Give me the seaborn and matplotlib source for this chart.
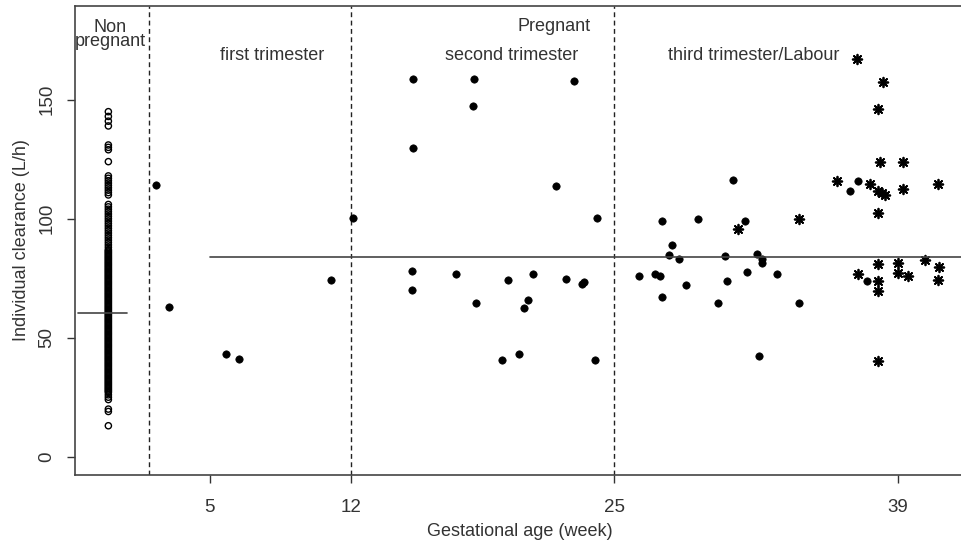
import numpy as np
import pandas as pd
import matplotlib
matplotlib.use("Agg")
import matplotlib.pyplot as plt
import seaborn as sns

# non-pregnant individual clearances (all plotted at week 0)
nonpreg_clearance = [13, 19, 20, 24, 25, 26, 27, 27.5, 28, 28.5, 29, 29.5,
                     30, 30.5, 31, 31.5, 32, 32.5, 33, 33.5, 34, 34.5, 35, 35.5, 36, 36.5,
                     37, 37.5, 38, 38.5, 39, 39.5, 40, 40.5, 41, 41.5, 42, 42.5, 43, 43.5,
                     44, 44.5, 45, 45.5, 46, 46.5, 47, 47.5, 48, 48.5, 49, 49.5, 50, 50.5,
                     51, 51.5, 52, 52.5, 53, 53.5, 54, 54.5, 55, 55.5, 56, 56.5, 57, 57.5,
                     58, 58.5, 59, 59.5, 60, 60.5, 61, 61.5, 62, 62.5, 63, 63.5, 64, 64.5,
                     65, 65.5, 66, 66.5, 67, 67.5, 68, 68.5, 69, 69.5, 70, 70.5, 71, 71.5,
                     72, 72.5, 73, 73.5, 74, 74.5, 75, 75.5, 76, 76.5, 77, 77.5, 78, 78.5,
                     79, 79.5, 80, 80.5, 81, 81.5, 82, 82.5, 83, 83.5, 84, 84.5, 85, 85.5,
                     86, 86.5, 87, 88, 89, 90, 91, 92, 93, 94, 95, 96, 97, 98, 99, 100, 101,
                     102, 103, 104, 105, 106, 110, 111, 112, 113, 114, 115, 116, 117, 118,
                     124, 129, 130, 131, 139, 141, 143, 145]
nonpreg_mean = 60.3

# pregnant, first/second/third trimester (filled circles)
preg_weeks = [2.33, 3.0, 5.83, 6.45, 11.0, 12.08,
              15.03, 18.04, 23.02, 17.99, 15.03, 22.13, 24.14,
              15.02, 17.15, 19.72, 20.99, 22.62, 23.39, 23.49, 15.02, 18.15, 20.73, 20.55,
              20.28, 19.43, 24.04,
              30.86, 27.33, 29.13, 31.47, 27.84, 27.71, 28.17, 30.47, 32.06, 32.3, 32.31,
              26.22, 26.98, 27.23, 28.51, 30.58, 31.57, 33.02, 27.33, 30.12, 34.14, 32.15,
              37.01, 36.63, 37.45]
preg_clearance = [114.0, 62.9, 43.0, 41.0, 74.2, 100.3,
                  158.6, 158.6, 158.0, 147.4, 129.8, 113.7, 100.3,
                  78.0, 76.6, 74.2, 76.6, 74.7, 72.6, 73.3, 70.1, 64.7, 65.7, 62.3,
                  43.3, 40.5, 40.5,
                  116.4, 98.9, 99.9, 98.9, 89.0, 84.6, 83.2, 84.2, 85.2, 83.1, 81.5,
                  75.8, 76.6, 76.1, 72.3, 73.8, 77.6, 76.8, 67.2, 64.7, 64.7, 42.4,
                  116.0, 111.8, 74.0]

# labour (asterisks)
labour_weeks = [31.12, 34.11, 36.98, 38.27, 38.0, 38.14, 39.26, 36.01, 37.61, 38.0, 38.2,
                38.37, 39.26, 40.99, 38.04, 38.04, 39.03, 39.03, 39.52, 40.32, 41.03, 40.99,
                37.01, 38.04, 38.04, 38.04]
labour_clearance = [95.8, 99.9, 167.0, 157.4, 146.2, 123.8, 123.8, 116.0, 114.6, 111.8, 110.7,
                    109.9, 112.6, 114.5, 102.3, 81.1, 81.5, 77.1, 75.9, 82.5, 79.8, 74.2,
                    76.6, 73.7, 69.6, 40.3]
preg_mean = 83.9

period_bounds = [2, 12, 25]
x_ticks = [5, 12, 25, 39]

sns.set_style("white")
plt.rcParams["font.family"] = ["Liberation Sans", "DejaVu Sans"]
txt = "#333333"

fig = plt.figure(figsize=(9.61, 5.48), dpi=100)
ax = fig.add_axes([0.078, 0.1332, 0.925, 0.8558])

df_np = pd.DataFrame({"week": np.zeros(len(nonpreg_clearance)), "cl": nonpreg_clearance})
df_p = pd.DataFrame({"week": preg_weeks, "cl": preg_clearance})
df_l = pd.DataFrame({"week": labour_weeks, "cl": labour_clearance})

sns.scatterplot(data=df_np, x="week", y="cl", ax=ax, marker="o", s=20,
                facecolor="none", edgecolor="black", linewidth=1.0)
sns.scatterplot(data=df_p, x="week", y="cl", ax=ax, marker="o", s=28,
                color="black", edgecolor="black", linewidth=0.5)
sns.scatterplot(data=df_l, x="week", y="cl", ax=ax, marker=(8, 2, 0), s=48,
                color="black", linewidth=1.3)

for b in period_bounds:
    ax.axvline(b, color="#222222", linestyle=(0, (3.5, 2.5)), linewidth=1.0, zorder=0)

ax.plot([-1.5, 0.93], [nonpreg_mean, nonpreg_mean], color="#444444", linewidth=1.2)
ax.plot([5, 43], [preg_mean, preg_mean], color="#444444", linewidth=1.2)

ax.set_xlim(-1.65, 42.26)
ax.set_ylim(-7.7, 189.4)
ax.set_xticks(x_ticks)
ax.set_xticklabels([str(t) for t in x_ticks])
ax.set_yticks([0, 50, 100, 150])
ax.set_yticklabels(["0", "50", "100", "150"], rotation=90, va="center")
ax.tick_params(axis="x", pad=11)
ax.tick_params(axis="y", pad=8)
ax.tick_params(axis="both", direction="out", length=6, width=1, color="#333333",
               labelsize=13.5, labelcolor=txt, left=True, bottom=True)

for side in ["left", "bottom", "top"]:
    ax.spines[side].set_color("#444444")
    ax.spines[side].set_linewidth(1.2)
ax.spines["right"].set_visible(False)

ax.set_xlabel("Gestational age (week)", fontsize=13, color=txt, labelpad=5)
ax.set_ylabel("Individual clearance (L/h)", fontsize=13, color=txt, labelpad=6)

ax.text(0.1, 177.5, "Non\npregnant", ha="center", va="center", fontsize=13, color=txt,
        linespacing=0.8)
ax.text(8.1, 168.5, "first trimester", ha="center", va="center", fontsize=13, color=txt)
ax.text(22.0, 181, "Pregnant", ha="center", va="center", fontsize=13, color=txt)
ax.text(19.9, 168.5, "second trimester", ha="center", va="center", fontsize=13, color=txt)
ax.text(31.9, 168.5, "third trimester/Labour", ha="center", va="center", fontsize=13, color=txt)

fig.savefig("out.png", dpi=100)
